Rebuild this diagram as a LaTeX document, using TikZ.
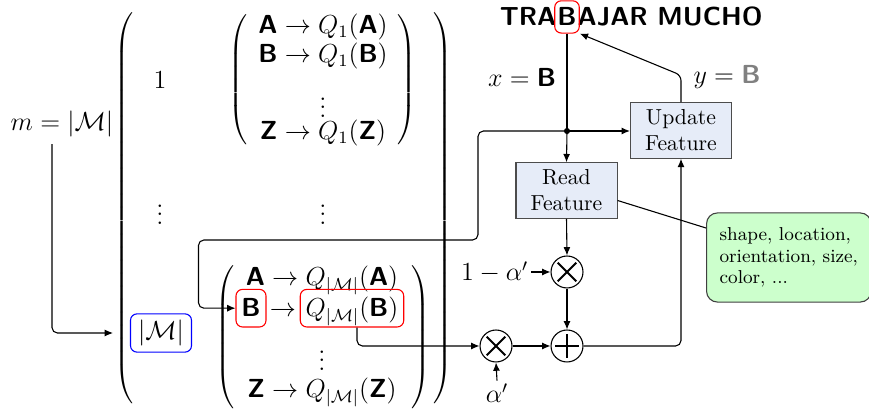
\documentclass[tikz,border=0pt]{standalone}
\usepackage{amsmath}
\usetikzlibrary{arrows.meta,calc,fit}
\definecolor{featfill}{HTML}{E6ECF8}
\definecolor{notefill}{HTML}{CCFFCC}
\newcommand\bsf[1]{\text{\sffamily\bfseries #1}}
\newcommand\dleft[1]{$\delimiterfactor=1000\delimitershortfall=0pt\left(\vcenter{\hbox{\rule{0pt}{#1}}}\right.$}
\newcommand\dright[1]{$\delimiterfactor=1000\delimitershortfall=0pt\left.\vcenter{\hbox{\rule{0pt}{#1}}}\right)$}
\tikzset{
  arr/.style={-{Latex[length=3.8pt,width=3.2pt]}},
  ent/.style={font=\large, inner sep=0pt},
  lbl/.style={font=\large, inner sep=1pt},
  ttl/.style={font=\large\sffamily\bfseries, inner sep=0pt},
  redbox/.style={draw=red, rounded corners=3pt, font=\large, text height=9.3pt, text depth=1.2pt, inner xsep=2.5pt, inner ysep=3.4pt},
  bluebox/.style={draw=blue, rounded corners=3pt, font=\large, inner xsep=3.5pt, inner ysep=2.8pt},
  fbox/.style={draw=black!70, fill=featfill, minimum width=46.5pt, minimum height=25.5pt, align=center, inner sep=2pt},
  opnode/.style={circle, draw, minimum size=14.7pt, inner sep=0pt},
  times/.style={opnode, path picture={
      \draw[line width=0.9pt] ($(path picture bounding box.center)+(-4.3pt,-4.3pt)$) -- ($(path picture bounding box.center)+(4.3pt,4.3pt)$);
      \draw[line width=0.9pt] ($(path picture bounding box.center)+(-4.3pt,4.3pt)$) -- ($(path picture bounding box.center)+(4.3pt,-4.3pt)$);}},
  plus/.style={opnode, path picture={
      \draw[line width=0.9pt] ($(path picture bounding box.center)+(-5.4pt,0pt)$) -- ($(path picture bounding box.center)+(5.4pt,0pt)$);
      \draw[line width=0.9pt] ($(path picture bounding box.center)+(0pt,-5.4pt)$) -- ($(path picture bounding box.center)+(0pt,5.4pt)$);}},
  note/.style={draw=black!75, fill=notefill, rounded corners=5pt, align=left, font=\fontsize{8.6pt}{10pt}\selectfont, inner xsep=6pt, inner ysep=4pt, minimum height=41pt, minimum width=74.5pt}
}
\begin{document}
\begin{tikzpicture}[x=0.46pt,y=-0.46pt,line width=0.5pt]
\useasboundingbox (0,0) rectangle (869,412);

% left label
\node[lbl, anchor=base] (m) at (62,131) {$m=|\mathcal{M}|$};
\coordinate (mEnd) at (113,333);

% delimiters
\node[inner sep=0pt] (oL) at (125,208) {\dleft{176pt}};
\node[inner sep=0pt] (oR) at (442,208) {\dright{176pt}};
\node[inner sep=0pt] (tL) at (239,80) {\dleft{58pt}};
\node[inner sep=0pt] (tR) at (406,80) {\dright{58pt}};
\node[inner sep=0pt] (bL) at (226,337) {\dleft{61pt}};
\node[inner sep=0pt] (bR) at (420,337) {\dright{61pt}};

% entries
\node[ent] (one) at (160,80) {$1$};
\node[ent, anchor=base] (t1) at (323,34) {$\bsf{A}\to Q_1(\bsf{A})$};
\node[ent, anchor=base] (t2) at (323,63) {$\bsf{B}\to Q_1(\bsf{B})$};
\node[ent] (t3) at (323,101) {$\vdots$};
\node[ent, anchor=base] (t4) at (323,140) {$\bsf{Z}\to Q_1(\bsf{Z})$};
\node[ent] (d1) at (160,208) {$\vdots$};
\node[ent] (d2) at (323,208) {$\vdots$};
\node[ent, anchor=base] (b1) at (322,286) {$\bsf{A}\to Q_{|\mathcal{M}|}(\bsf{A})$};
\node[redbox, anchor=base] (nB) at (251,317) {$\bsf{B}$};
\node[ent, anchor=base] (b2) at (283,317) {$\to$};
\node[redbox, anchor=base] (nQ) at (352,317) {$Q_{|\mathcal{M}|}(\bsf{B})$};
\node[ent] (b3) at (322,354) {$\vdots$};
\node[ent, anchor=base] (b4) at (322,398) {$\bsf{Z}\to Q_{|\mathcal{M}|}(\bsf{Z})$};
\node[bluebox] (nM) at (161,333) {$|\mathcal{M}|$};

% title
\node[ttl, anchor=base] (tB) at (567,26) {B};
\node[ttl, anchor=base east] (tT) at (tB.base west) {TRA};
\node[ttl, anchor=base west] (tA) at (tB.base east) {AJAR MUCHO};
\node[draw=red, rounded corners=3pt, fit=(tB), inner xsep=1pt, inner ysep=3pt] (tBox) {};

% right part
\coordinate (J) at (567,131);
\coordinate (loopA) at (478,240);
\node[fbox] (rf) at (566.5,190.5) {Read\\Feature};
\node[fbox] (uf) at (681,130.5) {Update\\Feature};
\node[times] (x1) at (567,272) {};
\node[times] (x2) at (496,346) {};
\node[plus] (pl) at (567,346) {};
\node[lbl, anchor=east] (oma) at (531,272) {$1-\alpha'$};
\node[lbl] (al) at (497,393) {$\alpha'$};
\node[lbl] (xl) at (522,77) {$x=\bsf{B}$};
\node[lbl] (yl) at (727,77) {$y=\textcolor{gray}{\bsf{B}}$};
\node[note, anchor=west] (cb) at (706,257.5) {shape, location,\\orientation, size,\\color, ...};

% connectors
\draw[arr, rounded corners=2.5pt] ($(m.south)+(-10,4)$) |- (mEnd);
\draw[arr, rounded corners=2.5pt] (J) -| (loopA) -| ($(nB.west)+(-37,0)$) -- (nB.west);
\draw[arr, rounded corners=2.5pt] ($(nQ.south)+(5,0)$) |- (x2.west);
\draw[arr] (x2.east) -- (pl.west);
\draw (tBox.south) -- (J);
\fill (J) circle (1.4pt);
\draw[arr] (J) -- (rf.north);
\draw[arr] (J) -- (J -| uf.west);
\draw[arr] (rf.south) -- (x1.north);
\draw[arr] (x1.south) -- (pl.north);
\draw[arr] (oma.east) -- (x1.west);
\draw[arr] (al.north) -- (x2.south);
\draw[arr, rounded corners=2.5pt] (pl.east) -| (uf.south);
\draw[arr, rounded corners=2.5pt] (uf.north) -- ($(uf.north)+(0,-27)$) -- (tBox.south east);
\draw ($(rf.east)+(0,10)$) -- ($(cb.west)+(0,-29.5)$);
\end{tikzpicture}
\end{document}
